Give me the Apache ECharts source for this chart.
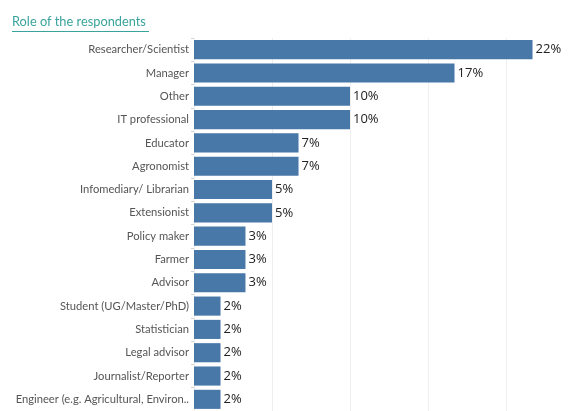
<!DOCTYPE html>
<html>
<head>
<meta charset="utf-8">
<script src="https://cdn.jsdelivr.net/npm/echarts@6/dist/echarts.min.js"></script>
<style>html,body{margin:0;padding:0;background:#fff;}#c{width:572px;height:411px;}</style>
</head>
<body>
<div id="c"></div>
<script>
const categories = [
  "Researcher/Scientist", "Manager", "Other", "IT professional", "Educator",
  "Agronomist", "Infomediary/ Librarian", "Extensionist", "Policy maker", "Farmer",
  "Advisor", "Student (UG/Master/PhD)", "Statistician", "Legal advisor",
  "Journalist/Reporter", "Engineer (e.g. Agricultural, Environ.."
];
const values = [21.7, 16.7, 10.0, 10.0, 6.7, 6.7, 5.0, 5.0, 3.3, 3.3, 3.3, 1.7, 1.7, 1.7, 1.7, 1.7];
const titleText = "Role of the respondents";

const chart = echarts.init(document.getElementById('c'), null, {renderer: 'canvas'});
const FONT = 'Lato, "Open Sans", sans-serif';
const VFONT = '"Open Sans", sans-serif';
chart.setOption({
  animation: false,
  graphic: [
    {type: 'text', left: 12, top: 15, style: {text: titleText, fill: '#3aa39b', font: '12.8px ' + FONT}},
    {type: 'rect', left: 12, top: 31, shape: {width: 137, height: 1}, style: {fill: '#3aa39b'}}
  ],
  grid: {left: 194, top: 38, width: 374.4, height: 376.5, containLabel: false},
  xAxis: {
    type: 'value', min: 0, max: 24, interval: 5,
    axisLabel: {show: false}, axisLine: {show: false}, axisTick: {show: false},
    splitLine: {show: true, showMaxLine: false, lineStyle: {color: '#efefef', width: 1}}
  },
  yAxis: {
    type: 'category', data: categories, inverse: true,
    axisLine: {show: false},
    axisTick: {show: true, length: 3, lineStyle: {color: '#d4d4d4'}},
    axisLabel: {color: '#555555', fontSize: 11.2, fontFamily: FONT, margin: 5}
  },
  series: [{
    type: 'bar', data: values, barWidth: '82%',
    itemStyle: {color: '#4878a8'},
    label: {
      show: true, position: 'right', distance: 3,
      color: '#222222', fontSize: 13, fontFamily: VFONT,
      formatter: p => Math.round(p.value) + '%'
    }
  }]
});
</script>
</body>
</html>
